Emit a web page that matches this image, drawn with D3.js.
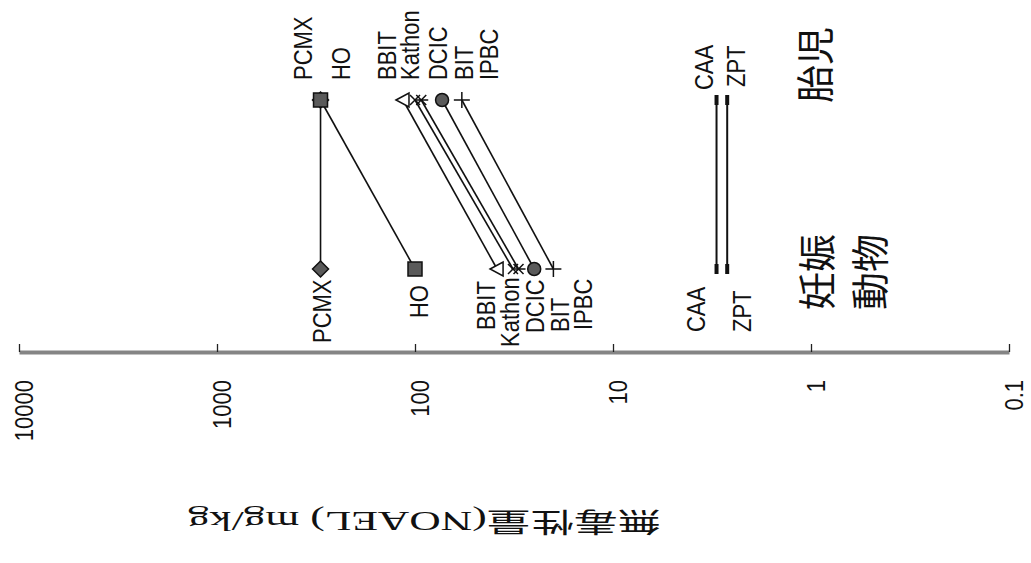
<!DOCTYPE html>
<html>
<head>
<meta charset="utf-8">
<script src="https://cdn.jsdelivr.net/npm/d3@7"></script>
<style>
  body { margin: 0; background: #fff; }
  svg { display: block; }
  .lbl { font-family: "Liberation Sans", Arial, sans-serif; font-size: 22px; fill: #111; }
  .tick text { font-family: "Liberation Sans", Arial, sans-serif; font-size: 22px; fill: #111; }
  .jp { font-family: "Noto Sans CJK JP", sans-serif; font-size: 38px; fill: #111; }
</style>
</head>
<body>
<div class="chart"></div>
<script>
// Data (NOAEL, mg/kg)
const groups = ["胎児", "妊娠動物"];
const compounds = ["PCMX", "HO", "BBIT", "Kathon", "BIT", "DCIC", "IPBC", "CAA", "ZPT"];
const fetusValues = [300, 300, 115, 100, 93, 73, 58, 3.0, 2.65];
const maternalValues = [300, 100, 38.5, 32, 30, 25, 20, 3.0, 2.65];
const markerTypes = ["diamond", "square", "triangle", "x", "star", "circle", "plus", "dash", "dash"];
const tickValues = [10000, 1000, 100, 10, 1, 0.1];
const tickLabels = ["10000", "1000", "100", "10", "1", "0.1"];
const axisTitle = "無毒性量(NOAEL) mg/kg";

// Hand placed label spots [x centre, bottom y]
const topLabelPos = {
    PCMX: [303, 80], HO: [341, 80], BBIT: [387, 80], Kathon: [410, 80], DCIC: [438, 80],
    BIT: [464, 80], IPBC: [489, 80], CAA: [704, 90], ZPT: [736, 87]
};
const bottomLabelPos = {
    PCMX: [322, 343], HO: [419, 318], BBIT: [486, 330], Kathon: [510, 347], DCIC: [535, 333],
    BIT: [560, 332], IPBC: [583, 330], CAA: [696, 332], ZPT: [742, 332]
};

let svgWidth = 1031;
let svgHeight = 563;

let svg = d3.select(".chart")
    .append("svg")
    .attr("width", svgWidth)
    .attr("height", svgHeight);

// Log scale runs from 10000 on the left to 0.1 on the right
let x = d3.scaleLog()
    .domain([10000, 0.1])
    .range([19, 1009]);

let y = d3.scalePoint()
    .domain(groups)
    .range([100, 269]);

let axisY = 352;

// Axis
let xAxis = svg.append("g")
    .attr("transform", `translate(0, ${axisY})`)
    .call(d3.axisTop(x)
        .tickValues(tickValues)
        .tickFormat((d, i) => tickLabels[i])
        .tickSize(8)
        .tickSizeOuter(0));

xAxis.select(".domain")
    .attr("stroke", "#858585")
    .attr("stroke-width", 4);

xAxis.selectAll(".tick line")
    .attr("stroke", "#222")
    .attr("stroke-width", 1.3);

// scanned glyphs look a little wider than the font, so stretch across
xAxis.selectAll(".tick text")
    .attr("x", null)
    .attr("y", null)
    .attr("dy", "0.35em")
    .attr("text-anchor", "end")
    .attr("transform", "translate(5, 28) scale(1.15, 1) rotate(-90)");

xAxis.attr("font-size", null).attr("font-family", null);

// Build series
let series = compounds.map((name, i) => ({
    name: name,
    marker: markerTypes[i],
    points: [
        { group: groups[0], value: fetusValues[i] },
        { group: groups[1], value: maternalValues[i] }
    ]
}));

let line = d3.line()
    .x(d => x(d.value))
    .y(d => y(d.group));

let seriesGroup = svg.append("g");

// Marker path for each type
function markerPath(type) {
    switch (type) {
        case "diamond": return "M0,-8L8,0L0,8L-8,0Z";
        case "square": return "M-7,-7H7V7H-7Z";
        case "triangle": return "M-7,0L6,-7L6,7Z";
        case "x": return "M-5,-5L5,5M-5,5L5,-5";
        case "star": return "M-5,-5L5,5M-5,5L5,-5M-7,0L7,0";
        case "circle": return "M6.5,0A6.5,6.5 0 1,1 -6.5,0A6.5,6.5 0 1,1 6.5,0Z";
        case "plus": return "M-8,0H8M0,-8V8";
        case "dash": return "M0,-5V5";
    }
}

series.forEach(function(s) {
    let g = seriesGroup.append("g");

    g.append("path")
        .datum(s.points)
        .attr("d", line)
        .attr("fill", "none")
        .attr("stroke", "#111")
        .attr("stroke-width", s.marker === "dash" ? 2 : 1.6);

    let filled = ["diamond", "square", "circle"].includes(s.marker);

    g.selectAll(".marker")
        .data(s.points)
        .enter()
        .append("path")
        .attr("class", "marker")
        .attr("transform", d => `translate(${x(d.value)}, ${y(d.group)})`)
        .attr("d", markerPath(s.marker))
        .attr("fill", filled ? "#5a5a5a" : (s.marker === "triangle" ? "#fff" : "none"))
        .attr("stroke", "#111")
        .attr("stroke-width", s.marker === "dash" ? 4 : 1.5);
});

// Compound labels, rotated to read upwards
function addLabels(pos) {
    svg.append("g")
        .selectAll("text")
        .data(compounds)
        .enter()
        .append("text")
        .attr("class", "lbl")
        .attr("transform", d => `translate(${pos[d][0]}, ${pos[d][1]}) scale(1.15, 1) rotate(-90)`)
        .attr("dy", "0.35em")
        .attr("text-anchor", "start")
        .text(d => d);
}
addLabels(topLabelPos);
addLabels(bottomLabelPos);

// Group names
svg.append("text")
    .attr("class", "jp")
    .attr("transform", "translate(815, 103) rotate(-90)")
    .attr("dy", "0.36em")
    .text(groups[0]);

let mother = svg.append("text")
    .attr("class", "jp")
    .attr("transform", "translate(817, 310) rotate(-90)");
mother.append("tspan").attr("x", 0).attr("dy", "0.36em").text(groups[1].slice(0, 2));
mother.append("tspan").attr("x", 0).attr("dy", "1.4em").text(groups[1].slice(2));

// Axis title, printed upside down in the source
svg.append("text")
    .attr("transform", "translate(661, 512) rotate(180)")
    .attr("text-anchor", "start")
    .attr("font-family", "'Liberation Serif', 'Noto Sans CJK JP', serif")
    .attr("font-size", 27)
    .attr("fill", "#111")
    .attr("textLength", 473)
    .attr("lengthAdjust", "spacingAndGlyphs")
    .text(axisTitle);
</script>
</body>
</html>
